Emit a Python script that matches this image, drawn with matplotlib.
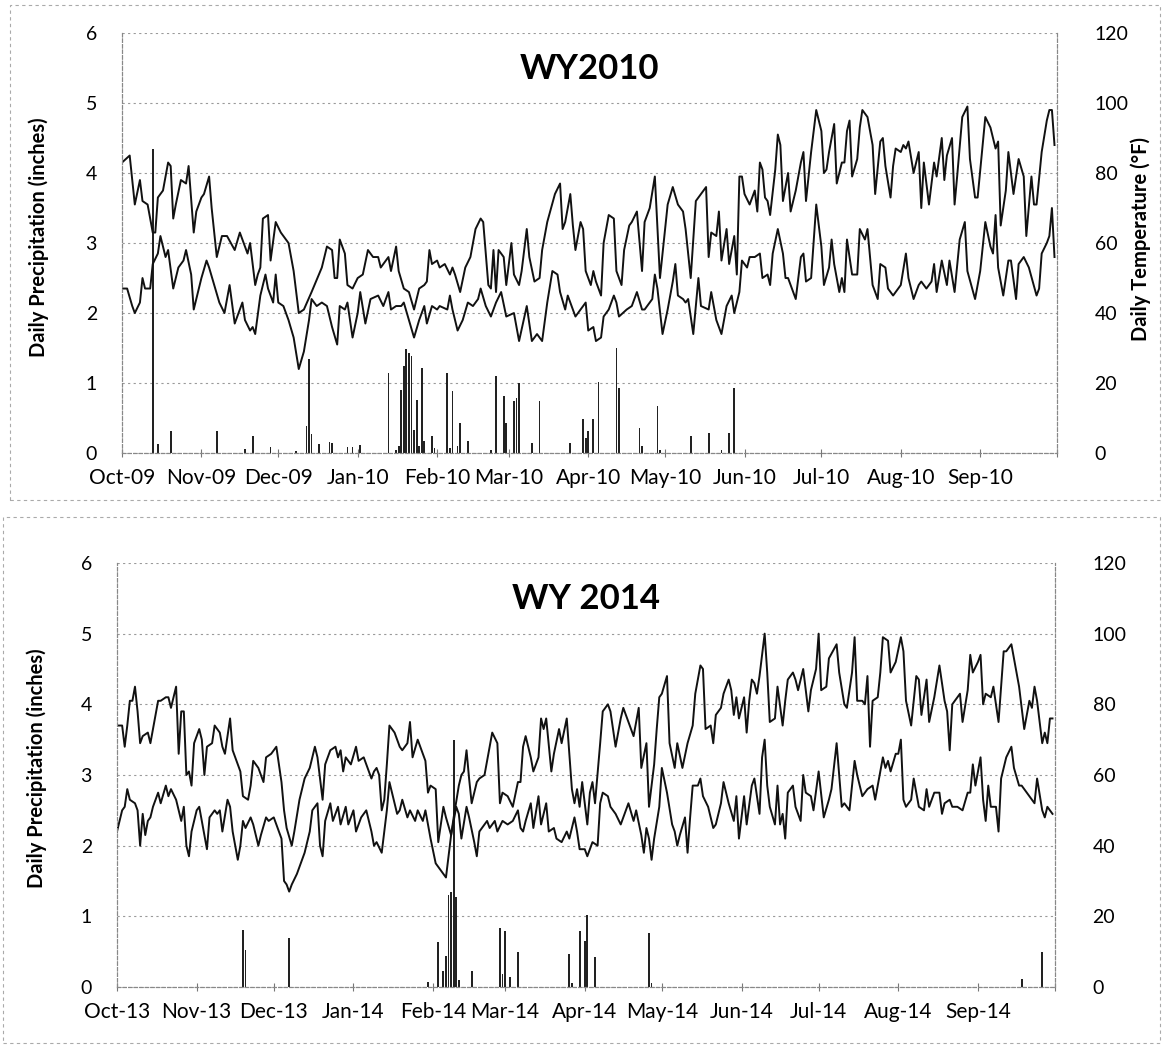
import matplotlib
matplotlib.use('Agg')
import matplotlib.pyplot as plt
import matplotlib.dates as mdates
from matplotlib.patches import Rectangle
import pandas as pd

plt.rcParams['font.family'] = ['Lato', 'DejaVu Sans']

# ---- WY2010 (day 0 = Oct 1 2009) ----
wy10_tmax_days = [0, 3, 5, 7, 8, 10, 12, 13, 14, 16, 18, 19, 20, 21, 23, 25, 26, 28, 29, 31, 32, 34, 35, 37, 39,
                  41, 44, 46, 49, 50, 52, 53, 54, 55, 57, 58, 60, 62, 65, 67, 69, 71, 74, 78, 80, 82, 83, 84, 85,
                  87, 88, 90, 92, 94, 96, 98, 100, 101, 104, 105, 107, 108, 110, 112, 114, 116, 118, 119, 120, 121,
                  123, 124, 126, 128, 129, 130, 132, 134, 136, 138, 140, 141, 143, 144, 145, 146, 147, 149, 150,
                  152, 153, 155, 156, 158, 159, 161, 163, 164, 166, 169, 171, 172, 173, 175, 176, 177, 179, 180,
                  181, 183, 184, 185, 187, 188, 190, 192, 193, 195, 196, 198, 199, 201, 203, 204, 206, 208, 210,
                  212, 213, 215, 217, 219, 220, 222, 224, 226, 228, 229, 230, 232, 233, 234, 236, 237, 239, 240,
                  241, 242, 243, 245, 247, 248, 249, 250, 251, 252, 253, 255, 256, 257, 258, 260, 261, 263, 265,
                  266, 267, 269, 271, 273, 274, 275, 276, 278, 279, 281, 282, 283, 284, 285, 287, 288, 289, 291,
                  293, 294, 296, 297, 298, 300, 301, 302, 304, 305, 306, 307, 309, 311, 312, 313, 314, 315, 317,
                  318, 320, 321, 322, 324, 325, 326, 328, 330, 331, 333, 334, 337, 339, 341, 342, 343, 345, 346,
                  348, 350, 352, 353, 355, 356, 357, 359, 361, 362, 363, 364]
wy10_tmax = [83, 85, 71, 78, 72, 71, 63, 63, 73, 75, 83, 82, 67, 71, 78, 77, 82, 63, 69, 73, 74, 79, 70, 56, 62,
             62, 58, 63, 57, 60, 48, 51, 53, 67, 68, 55, 66, 63, 60, 52, 40, 41, 46, 53, 59, 58, 50, 50, 61,
             57, 48, 47, 50, 51, 58, 56, 56, 53, 56, 52, 59, 52, 47, 46, 41, 47, 48, 49, 58, 54,
             55, 53, 54, 51, 53, 51, 46, 53, 56, 64, 67, 66, 48, 47, 58, 46, 58, 56, 48,
             60, 51, 48, 52, 64, 56, 49, 50, 58, 66, 74, 77, 64, 66, 74, 65, 58, 66, 64,
             52, 48, 52, 49, 45, 60, 68, 67, 52, 48, 58, 65, 66, 69, 52, 66, 70, 79, 50,
             64, 71, 76, 71, 69, 64, 50, 72, 74, 76, 56, 63, 62, 69, 55, 64, 54, 62, 51,
             79, 79, 74, 71, 75, 69, 83, 81, 73, 72, 68, 81, 91, 88, 72, 80, 69, 75, 83,
             86, 72, 86, 98, 92, 80, 81, 86, 94, 77, 83, 83, 92, 95, 79, 84, 93, 98, 96,
             88, 74, 89, 90, 82, 73, 82, 87, 86, 88, 87, 89, 80, 86, 70, 83, 77, 71, 83,
             79, 90, 78, 85, 90, 71, 79, 96, 99, 84, 73, 73, 96, 93, 87, 89, 65, 75, 86,
             74, 84, 79, 62, 79, 71, 71, 86, 95, 98, 98, 88]

wy10_tmin_days = [0, 2, 4, 5, 7, 8, 9, 11, 12, 14, 15, 17, 18, 20, 22, 24, 25, 27, 28, 30, 31, 33, 34, 36, 38,
                  40, 42, 44, 47, 48, 50, 51, 52, 54, 56, 57, 59, 60, 61, 63, 65, 67, 69, 71, 73, 74, 76, 78, 80,
                  82, 84, 85, 87, 88, 90, 92, 93, 95, 97, 100, 102, 104, 105, 107, 109, 110, 112, 114, 116, 118,
                  119, 121, 123, 124, 127, 128, 129, 131, 133, 135, 137, 139, 140, 142, 144, 146, 148, 150, 153,
                  155, 158, 160, 162, 164, 166, 168, 170, 171, 173, 174, 176, 177, 179, 181, 182, 184, 185, 187,
                  188, 190, 192, 193, 194, 197, 199, 201, 203, 204, 207, 208, 209, 211, 213, 215, 216, 217, 219,
                  220, 221, 223, 225, 226, 229, 230, 232, 234, 236, 238, 239, 241, 242, 244, 245, 247, 249, 250,
                  252, 253, 254, 256, 258, 259, 260, 262, 263, 265, 266, 267, 269, 271, 273, 274, 276, 277, 278,
                  280, 281, 282, 283, 285, 287, 288, 290, 291, 293, 295, 296, 298, 299, 301, 303, 304, 306, 307,
                  309, 311, 312, 314, 316, 317, 318, 320, 322, 323, 325, 327, 329, 330, 333, 335, 337, 339, 340,
                  341, 342, 344, 346, 347, 349, 350, 352, 354, 357, 358, 359, 361, 362, 363, 364]
wy10_tmin = [47, 47, 42, 40, 43, 50, 47, 47, 54, 57, 62, 56, 58, 47, 53, 55, 58, 51, 41, 47, 50, 55, 53, 48, 43,
             40, 48, 37, 43, 38, 35, 36, 34, 45, 51, 47, 43, 51, 43, 42, 38, 33, 24, 29, 38, 44, 42, 43, 42,
             36, 31, 42, 41, 43, 33, 40, 46, 37, 44, 45, 42, 46, 41, 42, 42, 43, 38, 33, 38, 42,
             37, 42, 41, 42, 41, 45, 41, 35, 38, 43, 42, 44, 47, 42, 39, 43, 46, 39, 40,
             32, 42, 32, 34, 32, 43, 52, 51, 46, 41, 45, 41, 39, 41, 43, 35, 36, 32, 33,
             39, 41, 45, 43, 39, 41, 42, 46, 41, 41, 44, 51, 47, 34, 41, 49, 54, 45, 44,
             43, 44, 34, 50, 42, 41, 46, 38, 34, 42, 45, 40, 46, 55, 53, 56, 56, 57, 50,
             51, 48, 57, 64, 57, 50, 50, 46, 44, 56, 57, 49, 50, 71, 59, 48, 53, 61, 54,
             46, 50, 46, 61, 51, 51, 64, 61, 64, 48, 44, 54, 53, 47, 45, 47, 48, 57, 50,
             44, 48, 49, 47, 49, 54, 46, 55, 48, 55, 46, 61, 66, 52, 44, 52, 66, 59, 57,
             68, 53, 45, 55, 55, 44, 54, 56, 53, 45, 47, 57, 60, 62, 70, 56]

wy10_rain_days = [12, 14, 19, 37, 48, 51, 58, 68, 72, 73, 74, 77, 81, 82, 88, 90, 93, 104, 107, 108,
                  109, 110, 111, 112, 113, 114, 115, 116, 117, 118, 121, 122, 127, 128, 129, 131, 132, 135, 144, 146,
                  149, 150, 153, 154, 155, 160, 163, 175, 180, 181, 182, 184, 186, 193, 194, 202, 203, 209, 210, 222,
                  229, 234, 237, 239]
wy10_rain = [4.35, 0.13, 0.31, 0.31, 0.06, 0.24, 0.09, 0.03, 0.38, 1.34, 0.27, 0.13, 0.16, 0.15, 0.09, 0.09, 0.12,
             1.14, 0.05, 0.1, 0.9, 1.24, 1.48, 1.43, 1.38, 0.33, 0.76, 0.1, 1.21, 0.17, 0.24, 0.07, 1.14, 0.07,
             0.88, 0.1, 0.43, 0.17, 0.05, 1.1, 0.81, 0.43, 0.74, 0.79, 1.0, 0.14, 0.74, 0.14, 0.48, 0.21, 0.31,
             0.48, 1.02, 1.5, 0.93, 0.36, 0.1, 0.67, 0.05, 0.24, 0.29, 0.05, 0.29, 0.93]

# ---- WY2014 (day 0 = Oct 1 2013) ----
wy14_tmax_days = [0, 2, 3, 4, 5, 6, 7, 8, 9, 10, 12, 13, 14, 16, 17, 19, 20, 21, 22, 23, 24, 25, 26, 27, 28, 29,
                  30, 32, 33, 34, 35, 37, 38, 40, 41, 42, 44, 45, 47, 48, 49, 51, 52, 53, 55, 57, 58, 60, 62, 64,
                  65, 66, 68, 69, 71, 73, 75, 77, 78, 80, 81, 83, 85, 86, 87, 88, 89, 91, 93, 94, 96, 97, 99, 100,
                  101, 102, 103, 104, 105, 106, 108, 110, 111, 113, 114, 115, 117, 118, 120, 121,
                  122, 124, 125, 127, 128, 130, 131, 133, 134, 135, 136, 137, 138, 140, 141, 143, 145, 146, 148,
                  149, 150, 152, 154, 156, 157, 158, 159, 161, 162, 164, 165, 166, 167, 169, 170, 172, 173, 175,
                  177, 178, 179, 180, 181, 183, 184, 185, 186, 188, 189, 191, 192, 194, 196, 197, 200, 201, 203,
                  204, 206, 207, 209, 210, 211, 212, 214, 215, 217, 218, 220, 222, 224, 225, 227, 228, 229, 231,
                  232, 233, 235, 236, 238, 239, 240, 241, 242, 244, 245, 246, 247, 248, 249, 250, 252, 253, 254,
                  256, 257, 259, 260, 261, 263, 264, 265, 267, 269, 270, 272, 273, 274, 276, 277, 280, 281, 283,
                  284, 286, 287, 288, 290, 291, 292, 293, 294, 296, 297, 298, 300, 301, 303, 305, 306, 307, 309,
                  311, 312, 313, 315, 316, 318, 320, 322, 323, 324, 325, 327, 328, 329, 331, 332, 333, 335, 336,
                  337, 338, 340, 341, 343, 345, 346, 348, 349, 351, 353, 355, 356, 357, 358, 360, 361, 362, 363, 364]
wy14_tmax = [74, 74, 68, 74, 81, 81, 85, 78, 69, 71, 72, 69, 73, 81, 81, 82, 82, 79, 82, 85, 66, 78, 78, 60, 61, 57,
             69, 73, 70, 60, 68, 69, 74, 72, 68, 66, 76, 67, 63, 61, 54, 53, 57, 64, 62, 58, 65, 66, 68, 58,
             50, 45, 40, 44, 53, 59, 62, 68, 65, 53, 63, 67, 68, 65, 67, 61, 65, 63, 68, 64, 65, 63, 59, 61,
             62, 60, 50, 53, 63, 74, 72, 68, 67, 69, 75, 65, 70, 68, 64, 55,
             57, 56, 41, 51, 48, 43, 48, 57, 60, 61, 67, 59, 52, 58, 59, 60, 68, 72, 69,
             52, 55, 54, 51, 58, 58, 68, 71, 65, 61, 65, 76, 73, 76, 61, 66, 73, 69, 76,
             56, 52, 56, 51, 58, 46, 55, 58, 52, 69, 78, 80, 78, 68, 76, 79, 73, 71, 79,
             62, 69, 51, 63, 73, 82, 83, 88, 69, 62, 69, 62, 69, 74, 83, 91, 90, 73, 74,
             69, 77, 79, 83, 87, 84, 77, 82, 76, 82, 72, 81, 87, 86, 83, 88, 100, 89, 75,
             76, 85, 74, 81, 87, 89, 87, 84, 90, 78, 84, 90, 100, 84, 85, 93, 97, 89, 80,
             79, 89, 99, 81, 81, 80, 88, 68, 81, 82, 89, 99, 98, 89, 92, 99, 95, 81, 74,
             88, 87, 77, 87, 75, 82, 91, 81, 78, 67, 80, 82, 83, 75, 84, 94, 89, 92, 94,
             80, 83, 82, 85, 75, 95, 95, 97, 93, 85, 73, 81, 79, 85, 81, 69, 72, 69, 76, 76]

wy14_tmin_days = [0, 2, 3, 4, 5, 7, 8, 9, 10, 11, 12, 13, 14, 16, 17, 19, 20, 21, 23, 24, 25, 26, 27, 28, 29, 31,
                  32, 33, 35, 36, 38, 39, 40, 41, 43, 44, 45, 47, 48, 49, 50, 52, 53, 55, 56, 58, 59, 61, 62, 64,
                  65, 66, 67, 68, 70, 71, 73, 75, 76, 78, 79, 80, 81, 83, 84, 86, 87, 89, 90, 92, 93, 95, 97, 99,
                  100, 101, 103, 105, 106, 107, 109, 110, 111, 113, 114, 116, 117, 119, 120, 122,
                  124, 126, 128, 129, 130, 132, 133, 134, 136, 137, 139, 140, 141, 143, 144, 145, 147, 148, 150,
                  152, 154, 156, 157, 158, 159, 161, 162, 164, 165, 167, 168, 170, 171, 173, 175, 176, 178, 179,
                  180, 182, 183, 184, 185, 187, 188, 189, 191, 192, 194, 196, 197, 199, 201, 202, 204, 205, 206,
                  207, 208, 209, 211, 212, 214, 216, 217, 218, 219, 221, 222, 223, 224, 226, 227, 228, 230, 232,
                  233, 235, 236, 238, 240, 241, 242, 244, 245, 247, 248, 250, 251, 252, 253, 254, 256, 257, 258,
                  259, 260, 261, 263, 264, 266, 267, 268, 270, 271, 273, 275, 277, 278, 280, 282, 283, 285, 287,
                  288, 290, 292, 294, 295, 296, 298, 299, 300, 301, 303, 304, 305, 306, 307, 309, 310, 312, 314,
                  315, 316, 318, 320, 321, 322, 324, 325, 327, 329, 331, 332, 333, 334, 336, 337, 338, 339, 340,
                  342, 343, 344, 346, 348, 349, 351, 352, 354, 355, 357, 358, 360, 361, 362, 363, 364]
wy14_tmin = [44, 50, 51, 56, 53, 52, 50, 40, 49, 43, 47, 48, 51, 55, 52, 57, 54, 56, 53, 50, 47, 51, 40, 37, 44, 50,
             51, 47, 39, 48, 50, 49, 50, 44, 53, 51, 44, 36, 40, 47, 45, 48, 46, 40, 43, 48, 47, 48, 46, 42,
             30, 29, 27, 29, 32, 34, 38, 44, 50, 52, 40, 37, 47, 52, 47, 51, 46, 51, 46, 50, 44, 48, 50, 44,
             40, 41, 38, 50, 58, 55, 49, 50, 53, 48, 50, 47, 50, 47, 50, 42,
             35, 33, 31, 37, 43, 51, 49, 42, 51, 48, 41, 37, 44, 46, 47, 45, 47, 44, 47,
             46, 47, 50, 45, 44, 47, 52, 45, 54, 46, 52, 44, 45, 42, 41, 44, 42, 48, 44,
             39, 39, 37, 39, 41, 40, 52, 55, 54, 51, 49, 46, 48, 52, 47, 50, 43, 38, 45,
             42, 36, 42, 51, 62, 55, 46, 44, 40, 43, 48, 38, 48, 57, 57, 59, 54, 51, 45,
             46, 52, 58, 52, 47, 54, 42, 54, 46, 57, 59, 49, 65, 70, 57, 51, 46, 57, 46,
             49, 42, 55, 57, 51, 47, 60, 55, 54, 50, 61, 48, 53, 56, 69, 51, 52, 50, 64,
             60, 54, 56, 57, 53, 57, 65, 62, 64, 61, 66, 66, 70, 53, 51, 53, 59, 51, 50,
             56, 51, 55, 55, 49, 52, 53, 51, 51, 50, 55, 55, 63, 57, 65, 53, 47, 57, 51,
             51, 44, 59, 65, 68, 62, 57, 57, 55, 54, 52, 59, 50, 48, 51, 50, 49]

wy14_rain_days = [49, 50, 67, 121, 125, 127, 128, 129, 130, 131, 132, 133, 138, 149, 150, 151, 153, 156,
                  176, 177, 180, 182, 183, 186, 207, 208, 352, 360]
wy14_rain = [0.81, 0.53, 0.7, 0.07, 0.63, 0.23, 0.44, 1.3, 1.35, 3.49, 1.28, 0.1, 0.23, 0.84, 0.19, 0.79, 0.14,
             0.49, 0.47, 0.05, 0.79, 0.65, 1.02, 0.42, 0.77, 0.05, 0.12, 0.5]

GRID = dict(color='#9a9a9a', linestyle=(0, (2, 3)), linewidth=0.8)


def to_dates(start, days):
    return pd.Timestamp(start) + pd.to_timedelta(days, unit='D')


def draw_panel(rect, start, title, tmax_days, tmax, tmin_days, tmin, rain_days, rain, right_label, lab_x):
    ax = fig.add_axes(rect)
    ax2 = ax.twinx()

    ax.bar(to_dates(start, rain_days), rain, width=0.7, color='#222222', zorder=2)
    ax2.plot(to_dates(start, tmax_days), tmax, color='#111111', lw=1.4)
    ax2.plot(to_dates(start, tmin_days), tmin, color='#111111', lw=1.4)

    t0 = pd.Timestamp(start)
    ax.set_xlim(t0, t0 + pd.Timedelta(days=365))
    ax.set_ylim(0, 6)
    ax2.set_ylim(0, 120)
    ax.set_yticks(range(0, 7))
    ax2.set_yticks(range(0, 121, 20))
    ax.grid(axis='y', zorder=0, **GRID)

    # month ticks, Oct..Sep labelled, plus an unlabelled tick at the right end
    months = pd.date_range(t0, periods=13, freq='MS')
    ax.set_xticks(months)
    ax.set_xticklabels([m.strftime('%b-%y') for m in months[:12]] + [''])
    ax.tick_params(axis='x', direction='inout', length=6, color='#777777', labelsize=15, pad=8)
    ax.tick_params(axis='y', length=0, labelsize=14, pad=18)
    ax2.tick_params(axis='y', length=0, labelsize=14, pad=27)

    for a in (ax, ax2):
        a.spines['top'].set_visible(False)
        for s in ('left', 'right', 'bottom'):
            a.spines[s].set_color('#888888')
            a.spines[s].set_linewidth(0.8)
            a.spines[s].set_linestyle((0, (3, 2)))

    ax.text(0.5, 0.915, title, transform=ax.transAxes, ha='center', va='center',
            fontsize=25, fontweight='bold')
    ax.set_ylabel('Daily Precipitation (inches)', fontsize=14.5, fontweight='bold')
    ax.yaxis.set_label_coords(lab_x, 0.515)
    if right_label:
        ax2.set_ylabel('Daily Temperature (°F)', fontsize=14.5, fontweight='bold')
        ax2.yaxis.set_label_coords(1.079, 0.51)
    return ax


fig = plt.figure(figsize=(11.63, 10.48), dpi=100)

# scan borders around each chart
fig.patches.append(Rectangle((0.009, 0.523), 0.988, 0.472, transform=fig.transFigure, fill=False,
                             ec='#aaaaaa', lw=0.8, ls=(0, (3, 3))))
fig.patches.append(Rectangle((0.003, 0.005), 0.994, 0.502, transform=fig.transFigure, fill=False,
                             ec='#aaaaaa', lw=0.8, ls=(0, (3, 3))))

draw_panel([0.1049, 0.5677, 0.8040, 0.4008], '2009-10-01', 'WY2010',
           wy10_tmax_days, wy10_tmax, wy10_tmin_days, wy10_tmin, wy10_rain_days, wy10_rain, True, -0.078)
draw_panel([0.1006, 0.0582, 0.8066, 0.4046], '2013-10-01', 'WY 2014',
           wy14_tmax_days, wy14_tmax, wy14_tmin_days, wy14_tmin, wy14_rain_days, wy14_rain, False, -0.075)

fig.savefig('out.png', dpi=100)
